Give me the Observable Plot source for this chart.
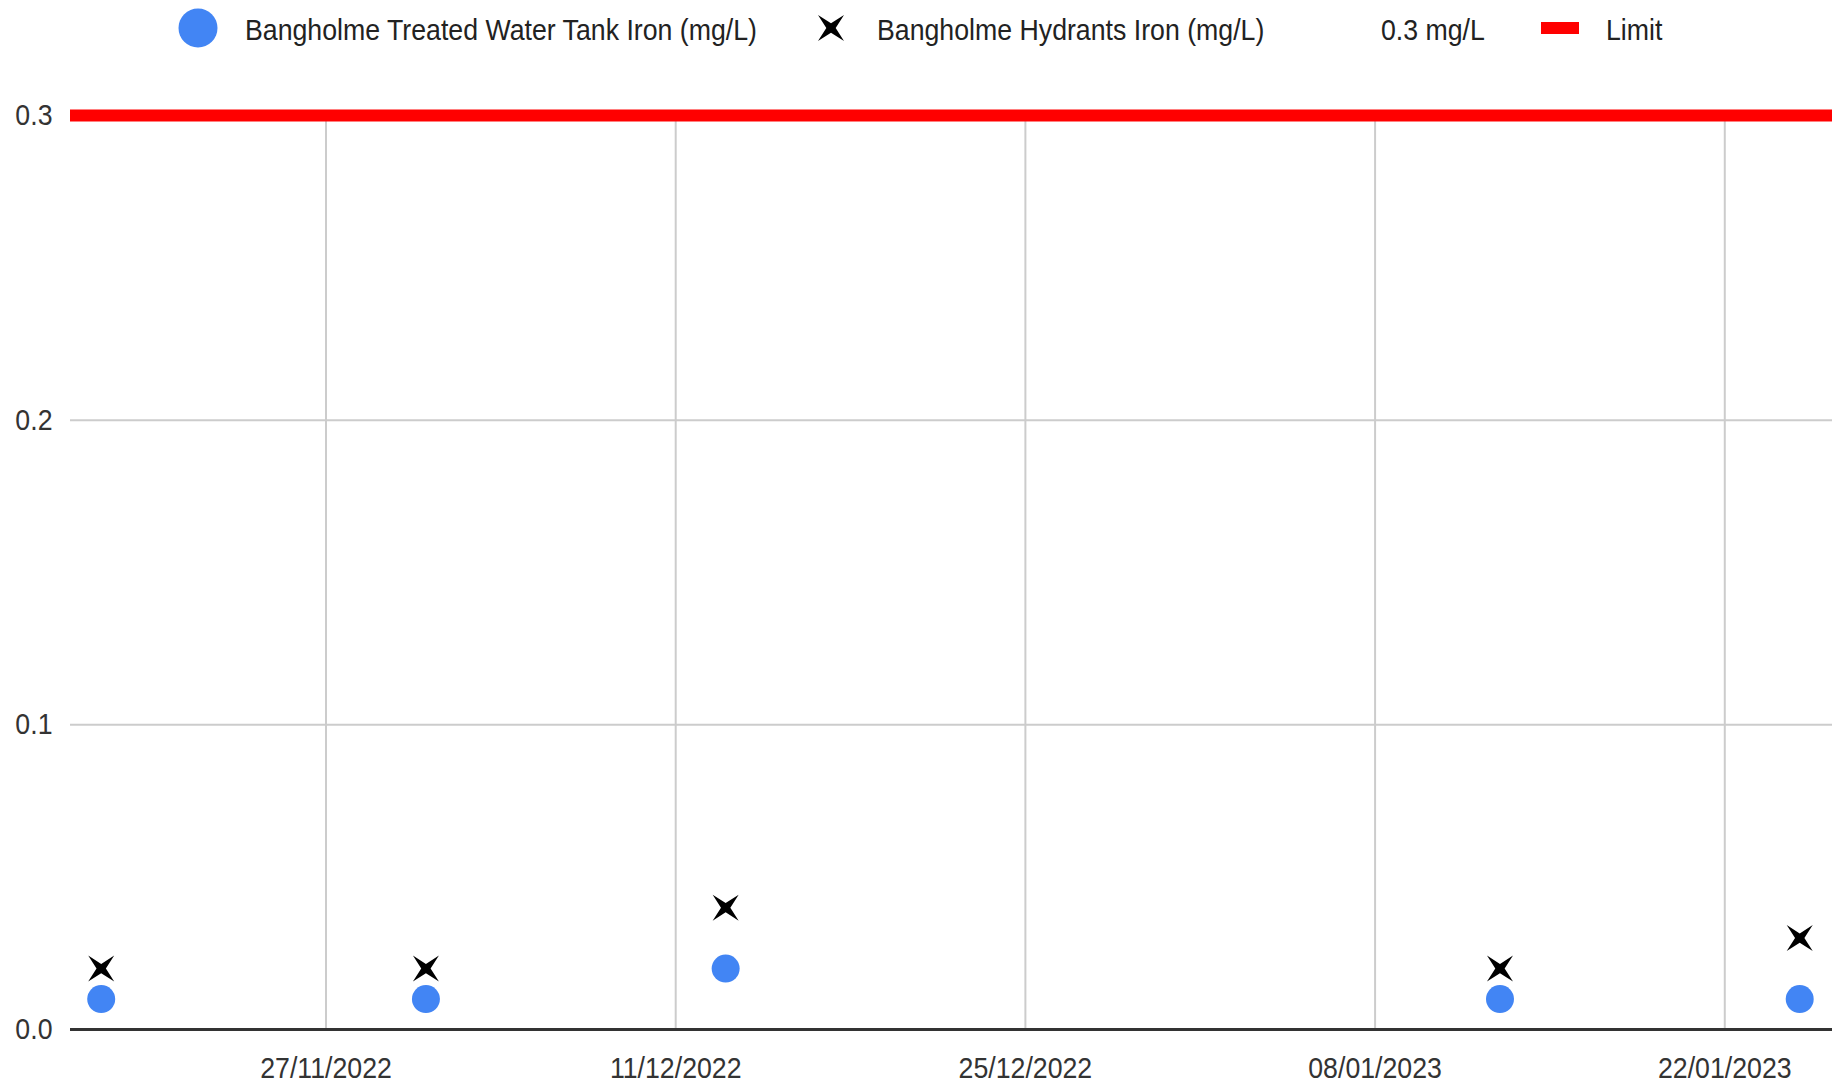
<!DOCTYPE html>
<html><head><meta charset="utf-8">
<script src="https://cdn.jsdelivr.net/npm/d3@7"></script>
<script src="https://cdn.jsdelivr.net/npm/@observablehq/plot@0.6"></script>
<style>
body{margin:0;background:#fff;}
#legend,#chart{display:block;}
</style></head><body>
<div id="legend"></div>
<div id="chart"></div>
<script>
// ---- data ----
const dates = ["2022-11-18","2022-12-01","2022-12-13","2023-01-13","2023-01-25"];
const tankIron = [0.01,0.01,0.02,0.01,0.01];
const hydrantIron = [0.02,0.02,0.04,0.02,0.03];
const limitValue = [0.3];
const seriesNames = ["Bangholme Treated Water Tank Iron (mg/L)","Bangholme Hydrants Iron (mg/L)","0.3 mg/L","Limit"];
const xTicks = ["2022-11-27","2022-12-11","2022-12-25","2023-01-08","2023-01-22"];
const yTicks = [0,0.1,0.2,0.3];
const xDomain = ["2022-11-16T18:30Z","2023-01-26T07:30Z"];

const FONT = '"Liberation Sans Narrow","Arial Narrow","Liberation Sans",Arial,sans-serif';
const SQUEEZE = 0.89;
const parse = s => new Date(s);

// four-pointed star "x" symbol
const star4 = {
  draw(context, size) {
    const t = Math.sqrt(size / Math.PI);
    const i = t * 0.36;
    context.moveTo(t, t);
    context.lineTo(0, i);
    context.lineTo(-t, t);
    context.lineTo(-i, 0);
    context.lineTo(-t, -t);
    context.lineTo(0, -i);
    context.lineTo(t, -t);
    context.lineTo(i, 0);
    context.closePath();
  }
};

function squeezeText(svgNode) {
  d3.select(svgNode).selectAll("text").each(function () {
    const len = this.getComputedTextLength();
    if (len > 0) {
      this.setAttribute("textLength", (len * SQUEEZE).toFixed(2));
      this.setAttribute("lengthAdjust", "spacingAndGlyphs");
    }
  });
}

// ---- legend ----
const W = 1838;
const leg = d3.select("#legend").append("svg").attr("width", W).attr("height", 60)
  .style("font-family", FONT).style("font-size", "30px").style("display","block");
leg.append("circle").attr("cx", 198).attr("cy", 28).attr("r", 19.5).attr("fill", "#4285f4");
leg.append("text").attr("x", 245).attr("y", 39.5).attr("fill", "#222").text(seriesNames[0]);
{
  const p = d3.path(); star4.draw(p, Math.PI * 13 * 13);
  leg.append("path").attr("d", p.toString()).attr("transform", "translate(831,28)").attr("fill", "#000");
}
leg.append("text").attr("x", 877).attr("y", 39.5).attr("fill", "#222").text(seriesNames[1]);
leg.append("text").attr("x", 1381).attr("y", 39.5).attr("fill", "#222").text(seriesNames[2]);
leg.append("rect").attr("x", 1541).attr("y", 22).attr("width", 38).attr("height", 12).attr("fill", "#ff0000");
leg.append("text").attr("x", 1606).attr("y", 39.5).attr("fill", "#222").text(seriesNames[3]);
squeezeText(leg.node());

// ---- chart ----
const tank = dates.map((d, i) => ({date: parse(d), value: tankIron[i]}));
const hyd = dates.map((d, i) => ({date: parse(d), value: hydrantIron[i]}));
const xTickDates = xTicks.map(parse);

const chart = Plot.plot({
  width: W, height: 1027,
  marginTop: 55, marginBottom: 58, marginLeft: 70, marginRight: 6,
  style: {fontFamily: FONT, fontSize: "30px", color: "#333", background: "white"},
  x: {type: "utc", domain: xDomain.map(parse), ticks: xTickDates,
      tickFormat: d3.utcFormat("%d/%m/%Y"), tickSize: 0, tickPadding: 27, label: null},
  y: {domain: [0, 0.3], ticks: yTicks, tickFormat: d3.format(".1f"),
      tickSize: 0, tickPadding: 18, label: null},
  marks: [
    Plot.ruleX(xTickDates, {stroke: "#cccccc", strokeWidth: 2}),
    Plot.ruleY(yTicks.filter(v => v > 0 && v < 0.3), {stroke: "#cccccc", strokeWidth: 2}),
    Plot.ruleY([0], {stroke: "#333333", strokeWidth: 3}),
    Plot.ruleY(limitValue, {stroke: "#ff0000", strokeWidth: 12}),
    Plot.dot(tank, {x: "date", y: "value", r: 14, fill: "#4285f4", stroke: null}),
    Plot.dot(hyd, {x: "date", y: "value", r: 13, symbol: star4, fill: "#000", stroke: null})
  ]
});
document.getElementById("chart").appendChild(chart);
squeezeText(chart);
</script>
</body></html>
